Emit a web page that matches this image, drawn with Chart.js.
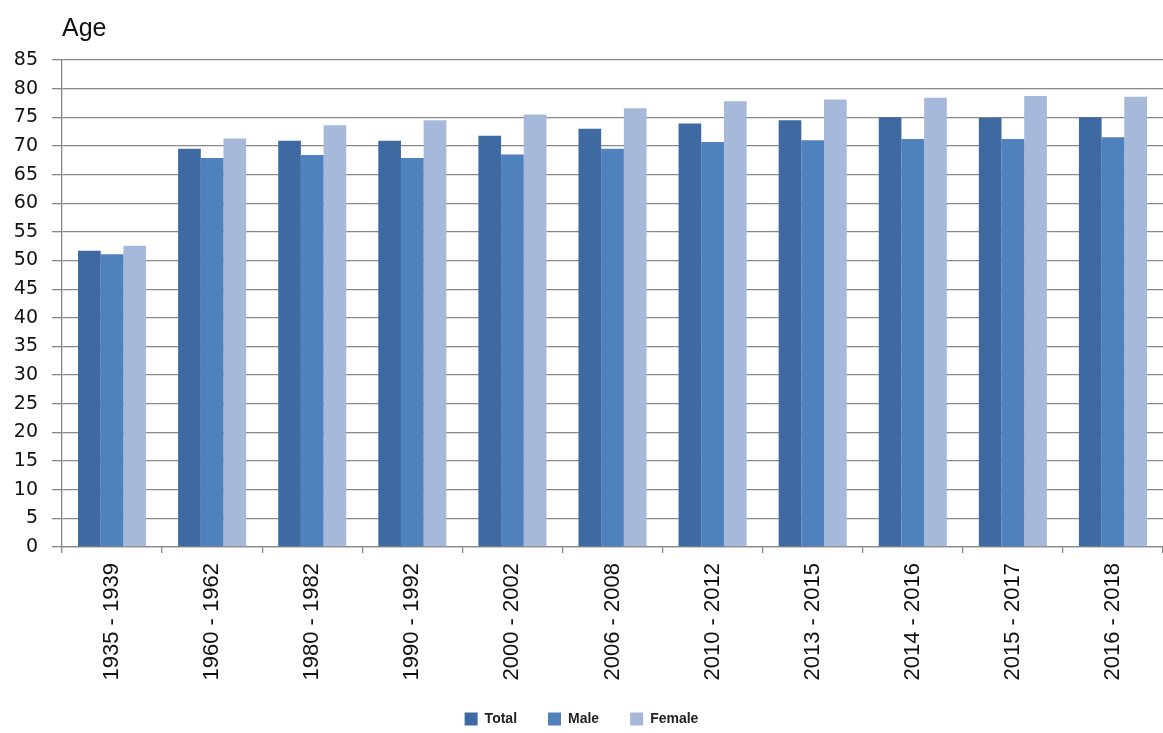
<!DOCTYPE html>
<html>
<head>
<meta charset="utf-8">
<title>Age</title>
<script src="https://cdn.jsdelivr.net/npm/chart.js@4.4.1/dist/chart.umd.min.js"></script>
<style>
  html, body { margin: 0; padding: 0; background: #fff; }
  #wrap { width: 1163px; height: 733px; position: relative; }
</style>
</head>
<body>
<div id="wrap"><canvas id="graficoEdad"></canvas></div>
<script>
// datos
const periodos = ["1935 - 1939", "1960 - 1962", "1980 - 1982", "1990 - 1992", "2000 - 2002",
  "2006 - 2008", "2010 - 2012", "2013 - 2015", "2014 - 2016", "2015 - 2017", "2016 - 2018"];
const total = [51.7, 69.5, 70.9, 70.9, 71.8, 73.0, 73.9, 74.5, 75.0, 74.9, 75.0];
const hombres = [51.1, 67.9, 68.4, 67.9, 68.5, 69.5, 70.7, 71.0, 71.2, 71.2, 71.5];
const mujeres = [52.6, 71.3, 73.6, 74.5, 75.5, 76.6, 77.8, 78.1, 78.4, 78.7, 78.6];
const nombresSeries = ["Total", "Male", "Female"];
const yMin = 0, yMax = 85, yPaso = 5;
const tituloEje = "Age";

document.addEventListener("DOMContentLoaded", () => {
  crearGrafico();
});

function crearGrafico() {
  const ctx = document.getElementById("graficoEdad").getContext("2d");
  const colores = ["#3e6aa1", "#4f81bd", "#a7b9da"];
  const series = [total, hombres, mujeres];

  new Chart(ctx, {
    type: "bar",
    data: {
      labels: periodos,
      datasets: series.map((s, i) => ({
        label: nombresSeries[i],
        data: s,
        backgroundColor: colores[i],
        borderWidth: 0,
        categoryPercentage: 0.68,
        barPercentage: 1.0
      }))
    },
    options: {
      responsive: true,
      maintainAspectRatio: false,
      animation: false,
      layout: { padding: { top: 60, left: 0, right: 0, bottom: -3 } },
      scales: {
        x: {
          grid: { display: true, drawOnChartArea: false, drawTicks: true, tickLength: 6, color: "#888", lineWidth: 1.3 },
          border: { display: true, color: "#888", width: 1.3 },
          ticks: {
            minRotation: 90, maxRotation: 90, padding: 10,
            color: "#111",
            font: { family: "'Liberation Sans'", size: 22 }
          },
          afterFit(scale) { scale.height = 134; }
        },
        y: {
          min: yMin, max: yMax,
          ticks: {
            stepSize: yPaso, padding: 14, color: "#111",
            font: { family: "'DejaVu Sans'", size: 19 }
          },
          grid: { color: "#888", lineWidth: 1.3, tickLength: 10 },
          border: { display: true, color: "#888", width: 1.3 },
          afterFit(scale) { scale.width = 62; }
        }
      },
      plugins: {
        legend: {
          position: "bottom",
          labels: {
            boxWidth: 13, boxHeight: 13, padding: 31, color: "#222",
            font: { family: "'Liberation Sans'", size: 14, weight: "bold" }
          }
        },
        tooltip: { enabled: false }
      }
    },
    plugins: [{
      id: "tituloEje",
      afterDraw(chart) {
        const c = chart.ctx;
        c.save();
        c.font = "25px 'Liberation Sans'";
        c.fillStyle = "#111";
        c.textBaseline = "alphabetic";
        c.fillText(tituloEje, chart.chartArea.left, 36);
        c.restore();
      }
    }]
  });
}
</script>
</body>
</html>
